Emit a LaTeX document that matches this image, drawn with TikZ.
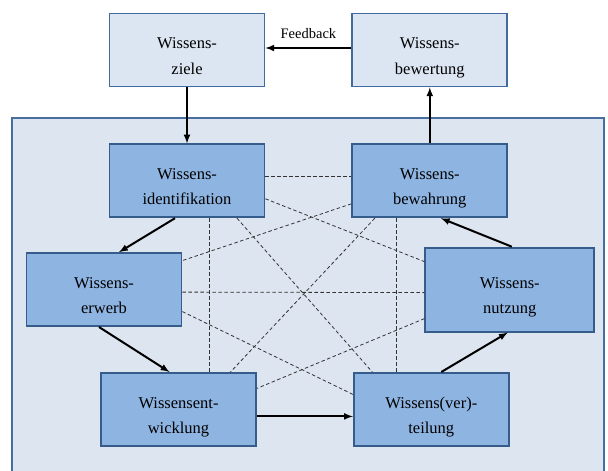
\documentclass[tikz,border=0pt]{standalone}
\usepackage{fontspec}
\setmainfont{Liberation Serif}
\usetikzlibrary{arrows}
\usetikzlibrary{positioning}

\definecolor{TopFill}{RGB}{220,230,242}
\definecolor{TopLine}{RGB}{66,106,158}
\definecolor{InnerFill}{RGB}{142,180,226}
\definecolor{InnerLine}{RGB}{54,92,140}
\definecolor{PanelFill}{RGB}{221,229,240}
\definecolor{PanelLine}{RGB}{72,110,158}

\begin{document}
\begin{tikzpicture}

	\tikzset{TopStyle/.style = {shape          = rectangle,
			draw           = TopLine,
			line width     = 1.8pt,
			fill           = TopFill,
			minimum width  = 155pt,
			minimum height = 73pt,
			align          = center,
			text height    = 48pt,
			text depth     = 0pt,
			font           = \fontsize{16.5}{25}\selectfont}}

	\tikzset{InnerStyle/.style = {TopStyle,
			draw           = InnerLine,
			fill           = InnerFill}}

	\tikzset{PanelStyle/.style = {draw = PanelLine, line width = 1.6pt, fill = PanelFill}}
	\tikzset{FlowStyle/.style  = {-latex, line width = 2pt}}
	\tikzset{LinkStyle/.style  = {line width = 0.8pt, dash pattern = on 3.5pt off 2.5pt, black!80}}

	\useasboundingbox (0pt,0pt) rectangle (608pt,-471pt);
	\draw[PanelStyle] (12pt,-118pt) rectangle (604pt,-490pt);

	\node[TopStyle] (ziele) at (187pt,-50pt) {Wissens-\\ziele};
	\node[TopStyle, right=86pt of ziele] (bewertung) {Wissens-\\bewertung};
	\node[InnerStyle, below=56pt of ziele] (ident) {Wissens-\\identifikation};
	\node[InnerStyle, below=56pt of bewertung] (bewahrung) {Wissens-\\bewahrung};
	\node[InnerStyle, below=34pt of ident, xshift=-83pt] (erwerb) {Wissens-\\erwerb};
	\node[InnerStyle, right=242pt of erwerb, minimum width=169pt, minimum height=84pt] (nutzung) {Wissens-\\nutzung};
	\node[InnerStyle, below=45pt of erwerb, xshift=74.5pt] (entwicklung) {Wissensent-\\wicklung};
	\node[InnerStyle, right=96pt of entwicklung] (verteilung) {Wissens(ver)-\\teilung};

	% dashed links inside the panel
	\draw[LinkStyle] ([yshift=4pt]ident.east) -- ([yshift=4pt]bewahrung.west);
	\draw[LinkStyle] ([yshift=-18pt]ident.east) -- ([yshift=28pt]nutzung.west);
	\draw[LinkStyle] ([yshift=-23pt]bewahrung.west) -- ([yshift=29pt]erwerb.east);
	\draw[LinkStyle] ([yshift=-2.5pt]erwerb.east) -- ([yshift=-3pt]nutzung.west);
	\draw[LinkStyle] ([xshift=22pt]ident.south) -- ([xshift=22pt]ident.south |- entwicklung.north);
	\draw[LinkStyle] ([xshift=-33pt]bewahrung.south) -- ([xshift=-33pt]bewahrung.south |- verteilung.north);
	\draw[LinkStyle] ([xshift=50pt]ident.south) -- ([xshift=-59pt]verteilung.north);
	\draw[LinkStyle] ([xshift=-55pt]bewahrung.south) -- ([xshift=52pt]entwicklung.north);
	\draw[LinkStyle] ([yshift=-22pt]erwerb.east) -- ([yshift=15pt]verteilung.west);
	\draw[LinkStyle] ([yshift=-29pt]nutzung.west) -- ([yshift=21pt]entwicklung.east);

	% process cycle
	\draw[FlowStyle] (ziele) -- (ident);
	\draw[FlowStyle] ([xshift=-12pt]ident.south) -- ([xshift=15pt]erwerb.north);
	\draw[FlowStyle] ([xshift=-5pt]erwerb.south) -- ([xshift=-9pt]entwicklung.north);
	\draw[FlowStyle] ([yshift=-7pt]entwicklung.east) -- ([yshift=-7pt]verteilung.west);
	\draw[FlowStyle] ([xshift=10pt]verteilung.north) -- ([xshift=-2pt]nutzung.south);
	\draw[FlowStyle] ([xshift=2pt]nutzung.north) -- ([xshift=11pt]bewahrung.south);
	\draw[FlowStyle] (bewahrung) -- (bewertung);
	\draw[FlowStyle] ([yshift=2pt]bewertung.west) -- node[above=5pt, font=\fontsize{14.5}{16}\selectfont] (feedback) {Feedback} ([yshift=2pt]ziele.east);
\end{tikzpicture}
\end{document}
